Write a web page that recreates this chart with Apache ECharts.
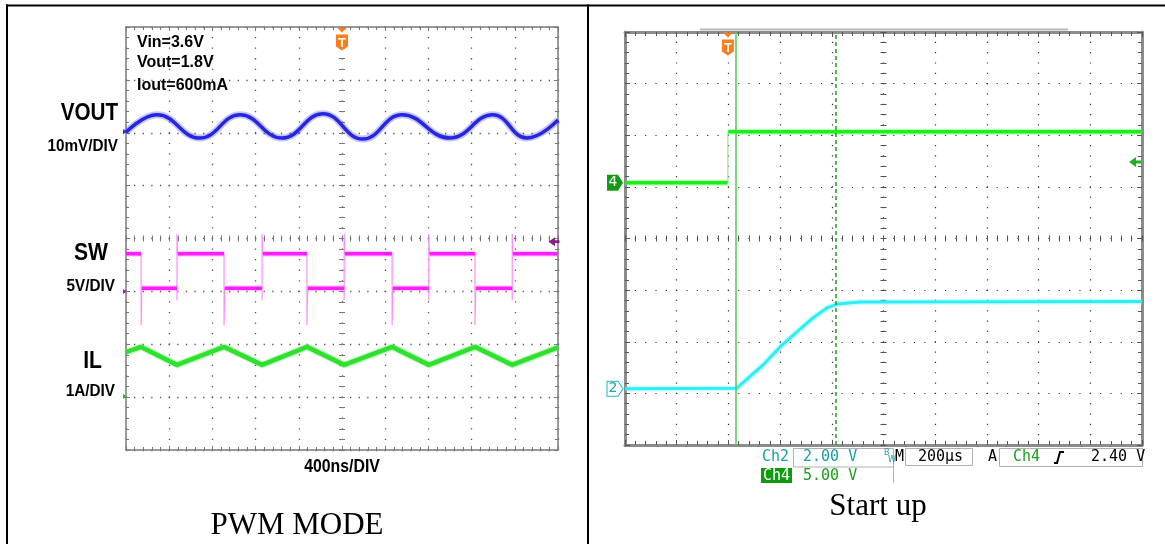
<!DOCTYPE html>
<html>
<head>
<meta charset="utf-8">
<title>PWM mode / Start up</title>
<script src="https://cdn.jsdelivr.net/npm/echarts@6/dist/echarts.min.js"></script>
<style>
  html, body { margin: 0; padding: 0; background: #fff; }
  #chart { width: 1165px; height: 544px; }
</style>
</head>
<body>
<div id="chart"></div>
<script>
// ---- left scope: PWM MODE, time in ns (400ns/div), levels in divisions from screen centre
const pwmTime = [-2000, 2000];
const voutTime = [-2000, -1712, -1316, -944, -556, -176, 192, 556, 1000, 1396, 1712, 2000];
const voutDiv = [2.01, 2.34, 1.90, 2.34, 1.90, 2.36, 1.88, 2.34, 1.90, 2.34, 1.90, 2.24];
const swFallTime = [-1860, -1092, -324, 464, 1232];
const swRiseTime = [-1528, -740, 20, 804, 1576];
const swHigh = -0.29, swLow = -0.94, swRingUp = 0.08, swRingDown = -1.63, swRiseDip = -1.16;
const ilTime = [-2000, -1860, -1528, -1092, -740, -324, 20, 464, 804, 1232, 1576, 2000];
const ilDiv = [-2.15, -2.05, -2.39, -2.05, -2.39, -2.05, -2.39, -2.05, -2.39, -2.05, -2.39, -2.06];
const pwmGround = [2.02, -1.0, -2.99];   // blue, magenta, green channel markers
const pwmTrigLevel = -0.06;

// ---- right scope: Start up, time in us (200us/div)
const startTime = [-1000, 1000];
const ch4Edge = -602;
const ch4Low = 1.08, ch4High = 2.07;
const ch2Time = [-1000, -567, -466, -400, -335, -273, -219, -180, -91, 1000];
const ch2Div = [-2.91, -2.90, -2.45, -2.10, -1.81, -1.54, -1.345, -1.27, -1.23, -1.22];
const startTrig = -602;
const cursorTime = [-571, -184];
const ch4TrigLevel = 1.48;

const zip = (a, b) => a.map((v, i) => [v, b[i]]);

const chart = echarts.init(document.getElementById('chart'));

// dotted grid line: one dot every minor division
function dotted(stepPx, color, w) {
  return { color: color, width: w, type: [w, stepPx - w], dashOffset: w / 2 };
}

// 4 x axes + 4 y axes per scope: frame edges and centre crosshair
function scopeAxes(gridIndex, base, xr, xi, o) {
  const common = (min, max, interval) => ({
    type: 'value', gridIndex: gridIndex, min: min, max: max, interval: interval,
    axisLabel: { show: false }, silent: true
  });
  const tick = (inside, len) => ({ show: true, inside: inside, length: len, lineStyle: { color: o.tick, width: 1 } });
  const minor = (len) => ({ show: true, splitNumber: 5, length: len, lineStyle: { color: o.tick, width: 1 } });
  const frame = { show: true, onZero: false, lineStyle: { color: o.frame, width: o.frameW } };
  const xs = [
    Object.assign(common(xr[0], xr[1], xi), { position: 'bottom', axisLine: frame, axisTick: tick(true, o.edgeTick), minorTick: minor(o.edgeTick - 1),
      splitLine: { show: true, lineStyle: dotted(o.yStep, o.dot, o.dotW) } }),
    Object.assign(common(xr[0], xr[1], xi), { position: 'top', axisLine: frame, axisTick: tick(true, o.edgeTick), minorTick: minor(o.edgeTick - 1), splitLine: { show: false } }),
    Object.assign(common(xr[0], xr[1], xi), { position: 'bottom', axisLine: { show: false, onZero: true, onZeroAxisIndex: base }, axisTick: tick(false, 3), minorTick: minor(3), splitLine: { show: false } }),
    Object.assign(common(xr[0], xr[1], xi), { position: 'top', axisLine: { show: false, onZero: true, onZeroAxisIndex: base }, axisTick: tick(false, 3), minorTick: minor(3), splitLine: { show: false } })
  ];
  const ys = [
    Object.assign(common(-4, 4, 1), { position: 'left', axisLine: frame, axisTick: tick(true, o.edgeTick), minorTick: minor(o.edgeTick - 1),
      splitLine: { show: true, lineStyle: dotted(o.xStep, o.dot, o.dotW) } }),
    Object.assign(common(-4, 4, 1), { position: 'right', axisLine: frame, axisTick: tick(true, o.edgeTick), minorTick: minor(o.edgeTick - 1), splitLine: { show: false } }),
    Object.assign(common(-4, 4, 1), { position: 'left', axisLine: { show: false, onZero: true, onZeroAxisIndex: base }, axisTick: tick(false, 3), minorTick: minor(3), splitLine: { show: false } }),
    Object.assign(common(-4, 4, 1), { position: 'right', axisLine: { show: false, onZero: true, onZeroAxisIndex: base }, axisTick: tick(false, 3), minorTick: minor(3), splitLine: { show: false } })
  ];
  return { xs: xs, ys: ys };
}

const leftAx = scopeAxes(0, 0, pwmTime, 400, { frame: '#7a7a7a', frameW: 1.5, tick: '#777', edgeTick: 4, dot: '#555', dotW: 1.3, xStep: 432 / 50, yStep: 423 / 40 });
const rightAx = scopeAxes(1, 4, startTime, 200, { frame: '#8c8c8c', frameW: 3, tick: '#555', edgeTick: 5, dot: '#333', dotW: 1.2, xStep: 517 / 50, yStep: 413 / 40 });

// switching node: flat parts thick, edges thin
const swEdges = swFallTime.map(t => [t, 'fall']).concat(swRiseTime.map(t => [t, 'rise'])).sort((a, b) => a[0] - b[0]);
const swFlat = [];
const swSpikes = [];
let swLevel = swHigh, swFrom = pwmTime[0];
swEdges.forEach(([t, kind]) => {
  swFlat.push([swFrom, swLevel], [t, swLevel], [t, '-']);
  if (kind === 'fall') {
    swSpikes.push([t, swHigh], [t, swRingDown], [t + 6, swLow], [t, '-']);
    swLevel = swLow;
  } else {
    swSpikes.push([t, swLow], [t, swRiseDip], [t, swRingUp], [t + 6, swHigh], [t, '-']);
    swLevel = swHigh;
  }
  swFrom = t + 6;
});
swFlat.push([swFrom, swLevel], [pwmTime[1], swLevel]);

// enable signal: flat parts thick, the step itself thin
const ch4Flat = [[startTime[0], ch4Low], [ch4Edge - 1, ch4Low], [ch4Edge, '-'], [ch4Edge + 1, ch4High], [startTime[1], ch4High]];
const ch4Step = [[ch4Edge, ch4Low], [ch4Edge, ch4High]];

const trigPath = 'path://M1,0 L11,0 L6,5 Z M0,7 L12,7 L12,19 L6,23 L0,19 Z';
const trigMark = (x) => ({
  coord: [x, 4], symbol: trigPath, symbolSize: [12, 23], symbolOffset: [0, 12],
  itemStyle: { color: '#ff7c1c' },
  label: { show: true, formatter: 'T', color: '#fff', fontWeight: 'bold', fontSize: 13, fontFamily: 'Liberation Sans', offset: [0, 4] }
});
const arrowLeft = 'path://M0,5 L7,0 L7,3.5 L12,3.5 L12,6.5 L7,6.5 L7,10 Z';
const chanBadge = 'path://M0,0 L11,0 L16,8 L11,16 L0,16 Z';
const groundColors = ['#2a2ae6', '#b01ab0', '#22b822'];

const line = (xi, yi, data, color, width, extra) => Object.assign({
  type: 'line', xAxisIndex: xi, yAxisIndex: yi, data: data, showSymbol: false, symbol: 'none',
  lineStyle: { color: color, width: width, cap: 'butt', join: 'round' }, silent: true, animation: false, z: 3
}, extra || {});
// faint wider copy under a trace, stands in for the scope's noise band
const halo = (xi, yi, data, color, width, extra) => {
  const s = line(xi, yi, data, color, width, extra);
  s.lineStyle.opacity = 0.3;
  s.z = 2;
  return s;
};

const option = {
  animation: false,
  backgroundColor: '#fff',
  grid: [
    { left: 126, top: 27, width: 432, height: 423, containLabel: false, outerBoundsMode: 'none' },
    { left: 625, top: 32, width: 517, height: 413, containLabel: false, outerBoundsMode: 'none' }
  ],
  xAxis: leftAx.xs.concat(rightAx.xs),
  yAxis: leftAx.ys.concat(rightAx.ys),
  series: [
    halo(0, 0, zip(voutTime, voutDiv), '#3c3cff', 7, { smooth: 0.45 }),
    line(0, 0, zip(voutTime, voutDiv), '#2626e0', 3.5, {
      smooth: 0.45,
      markPoint: {
        silent: true, animation: false,
        data: [trigMark(0)].concat(pwmGround.map((g, i) => ({
          coord: [pwmTime[0], g], symbol: 'triangle', symbolRotate: -90, symbolSize: [5, 4], symbolOffset: [-1, 0],
          itemStyle: { color: groundColors[i] }, label: { show: false }
        })))
      }
    }),
    line(0, 0, swSpikes, '#ff8cff', 1.2),
    halo(0, 0, swFlat, '#ff5cff', 6),
    line(0, 0, swFlat, '#ff1cff', 3.5, {
      markPoint: {
        silent: true, animation: false,
        data: [{ coord: [pwmTime[1], pwmTrigLevel], symbol: arrowLeft, symbolSize: [11, 9], symbolOffset: [-4, 0],
          itemStyle: { color: '#8a1c8a' }, label: { show: false } }]
      }
    }),
    halo(0, 0, zip(ilTime, ilDiv), '#44ee44', 7),
    line(0, 0, zip(ilTime, ilDiv), '#2fe02f', 4.5),
    line(4, 4, ch4Step, '#88f088', 1.2),
    halo(4, 4, ch4Flat, '#33ff33', 6),
    line(4, 4, ch4Flat, '#1cf01c', 3.5, {
      markLine: {
        silent: true, animation: false, symbol: ['none', 'none'], label: { show: false },
        data: [
          { xAxis: cursorTime[0], lineStyle: { color: '#55c855', width: 1.5, type: 'solid' } },
          { xAxis: cursorTime[1], lineStyle: { color: '#16a016', width: 1.5, type: [4, 3] } }
        ]
      },
      markPoint: {
        silent: true, animation: false,
        data: [
          trigMark(startTrig),
          { coord: [startTime[0], ch4Low], symbol: chanBadge, symbolSize: [16, 16], symbolOffset: [-10, 0],
            itemStyle: { color: '#149a14' },
            label: { show: true, formatter: '4', color: '#fff', fontSize: 14, fontFamily: 'DejaVu Sans', offset: [-2, 0] } },
          { coord: [startTime[1], ch4TrigLevel], symbol: arrowLeft, symbolSize: [12, 10], symbolOffset: [-7, 0],
            itemStyle: { color: '#22b022' }, label: { show: false } }
        ]
      }
    }),
    halo(4, 4, zip(ch2Time, ch2Div), '#55f4f8', 6),
    line(4, 4, zip(ch2Time, ch2Div), '#2eeef5', 3, {
      markPoint: {
        silent: true, animation: false,
        data: [{ coord: [startTime[0], ch2Div[0]], symbol: chanBadge, symbolSize: [16, 15], symbolOffset: [-10, 0],
          itemStyle: { color: '#fff', borderColor: '#2ab8c0', borderWidth: 1 },
          label: { show: true, formatter: '2', color: '#1aa6ae', fontSize: 14, fontFamily: 'DejaVu Sans', offset: [-2, 0] } }]
      }
    })
  ],
  graphic: []
};

// ---- page furniture (table borders, captions, scope readout)
const g = option.graphic;
const rect = (x, y, w, h, fill, stroke) => g.push({ type: 'rect', silent: true, z: 10,
  shape: { x: x, y: y, width: w, height: h }, style: { fill: fill || 'none', stroke: stroke || null, lineWidth: 1 } });
const text = (s, x, y, font, align, fill, sx) => g.push({ type: 'text', silent: true, z: 11, x: x, y: y, scaleX: sx || 1,
  style: { text: s, x: 0, y: 0, font: font, fill: fill || '#000', align: align, verticalAlign: 'middle' } });

rect(6, 4.5, 1159, 2, '#000');
rect(6, 4.5, 2, 540, '#000');
rect(587, 4.5, 2, 540, '#000');
rect(700, 28.5, 368, 2, '#b8b8b8');

const bigBold = 'bold 24px "Liberation Sans", Arial, sans-serif';
const midBold = 'bold 17px "Liberation Sans", Arial, sans-serif';
text('VOUT', 118, 113, bigBold, 'right', '#000', 0.86);
text('10mV/DIV', 118, 146, midBold, 'right', '#000', 0.9);
text('SW', 108, 253, bigBold, 'right', '#000', 0.88);
text('5V/DIV', 115, 286, midBold, 'right', '#000', 0.9);
text('IL', 102, 361, bigBold, 'right', '#000', 0.88);
text('1A/DIV', 115, 391, midBold, 'right', '#000', 0.9);
const smallBold = 'bold 16px "Liberation Sans", Arial, sans-serif';
text('Vin=3.6V', 137, 43, smallBold, 'left');
text('Vout=1.8V', 137, 63, smallBold, 'left');
text('Iout=600mA', 137, 86, smallBold, 'left');
text('400ns/DIV', 342, 467, 'bold 18px "Liberation Sans", Arial, sans-serif', 'center', '#000', 0.88);
text('PWM MODE', 297, 526, '31px "Liberation Serif", "Times New Roman", serif', 'center');
text('Start up', 878, 507, '31px "Liberation Serif", "Times New Roman", serif', 'center');

const mono = '15px "DejaVu Sans Mono", monospace';
const teal = '#1a9ea6', dgreen = '#1aa01a';
rect(793.5, 448.5, 100, 18.5, '#fff', '#b0b0b0');
rect(905.5, 448.5, 67, 17, '#fff', '#b0b0b0');
rect(999.5, 448.5, 143, 18, '#fff', '#b0b0b0');
g.push({ type: 'line', silent: true, z: 10, shape: { x1: 893.5, y1: 467, x2: 893.5, y2: 483 }, style: { stroke: '#b0b0b0', lineWidth: 1 } });
rect(761, 468, 31, 15, '#109a10');
text('Ch2', 762, 457, mono, 'left', teal);
text('2.00 V', 803, 457, mono, 'left', teal);
text('B', 884, 453, '8px "DejaVu Sans"', 'left', teal);
text('W', 888, 460, '8px "DejaVu Sans"', 'left', teal);
text('M', 895, 457, mono, 'left', '#000');
text('200\u00b5s', 918, 457, mono, 'left', '#000');
text('A', 988, 457, mono, 'left', '#000');
text('Ch4', 1013, 457, mono, 'left', dgreen);
g.push({ type: 'polyline', silent: true, z: 11, shape: { points: [[1054, 463], [1057, 463], [1060, 452], [1064, 452]] },
  style: { stroke: '#000', lineWidth: 2, fill: null } });
text('2.40 V', 1091, 457, mono, 'left', '#000');
text('Ch4', 763, 476, mono, 'left', '#fff');
text('5.00 V', 803, 476, mono, 'left', dgreen);

chart.setOption(option);
</script>
</body>
</html>
